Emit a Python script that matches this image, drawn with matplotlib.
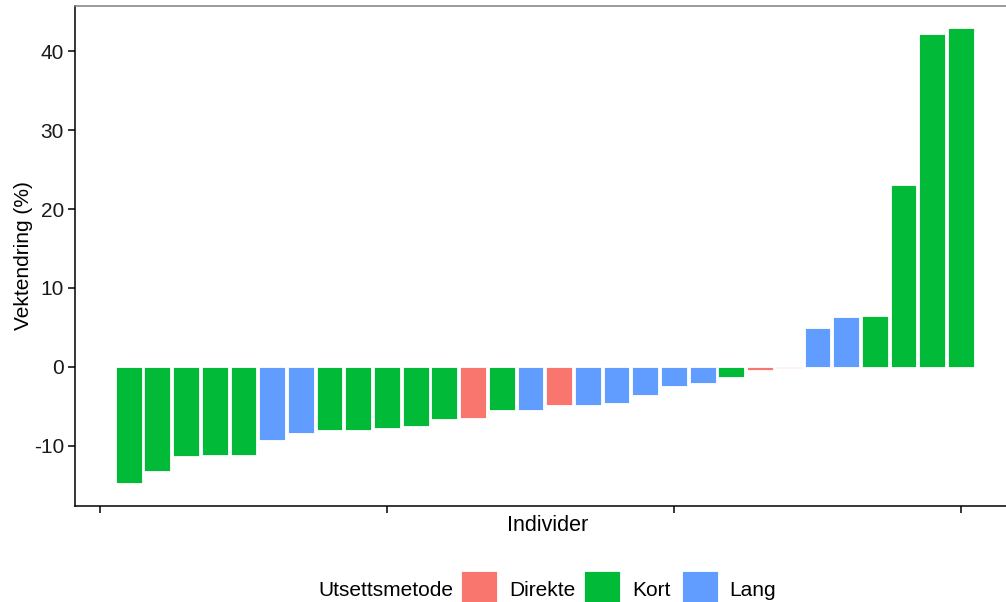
import numpy as np
import matplotlib.pyplot as plt
from matplotlib.patches import Rectangle

plt.rcParams['font.family'] = ['Liberation Sans', 'DejaVu Sans']

# Weight change per individual, sorted, with release method
vektendring = [-14.7, -13.2, -11.3, -11.2, -11.1, -9.2, -8.4, -8.0, -8.0, -7.7,
               -7.5, -6.6, -6.5, -5.5, -5.4, -4.8, -4.8, -4.6, -3.6, -2.4,
               -2.0, -1.3, -0.4, -0.1, 4.9, 6.3, 6.5, 23.0, 42.1, 42.9]
metode = ['Kort', 'Kort', 'Kort', 'Kort', 'Kort', 'Lang', 'Lang', 'Kort', 'Kort', 'Kort',
          'Kort', 'Kort', 'Direkte', 'Kort', 'Lang', 'Direkte', 'Lang', 'Lang', 'Lang', 'Lang',
          'Lang', 'Kort', 'Direkte', 'Direkte', 'Lang', 'Lang', 'Kort', 'Kort', 'Kort', 'Kort']
kategorier = ['Direkte', 'Kort', 'Lang']
farger = {'Direkte': '#F8766D', 'Kort': '#00BA38', 'Lang': '#619CFF'}

W, H = 1006, 602
fig = plt.figure(figsize=(W / 100, H / 100), dpi=100)

def fx(px):
    return px / W

def fy(py):
    return 1 - py / H

ax = fig.add_axes([fx(75), fy(506), 1 - fx(75), fy(6) - fy(506)])

x = np.arange(1, len(vektendring) + 1)
ax.bar(x, vektendring, width=0.9, color=[farger[m] for m in metode],
       edgecolor='white', linewidth=0.6)

ax.set_xlim(-0.87, 31.57)
ax.set_ylim(-17.6, 45.7)
ax.set_xticks([0, 10, 20, 30])
ax.set_xticklabels([])
ax.set_yticks([-10, 0, 10, 20, 30, 40])
ax.set_yticklabels(['-10', '0', '10', '20', '30', '40'])
ax.tick_params(axis='both', length=5, width=1.1, color='black',
               labelsize=15, labelcolor='#1a1a1a', pad=3)

for s in ['left', 'bottom']:
    ax.spines[s].set_color('black')
    ax.spines[s].set_linewidth(1.1)
ax.spines['top'].set_color('#7f7f7f')
ax.spines['top'].set_linewidth(1.1)
ax.spines['right'].set_visible(False)

# the panel runs a little past the right edge of the picture, so centre the title on that
ax.set_xlabel('Individer', fontsize=15.5)
ax.xaxis.set_label_coords(0.508, -0.018)
ax.set_ylabel('Vektendring (%)', fontsize=15)
ax.yaxis.set_label_coords(-0.045, 0.5)

# legend at the bottom, drawn by hand (ggplot style, horizontal with title on the left)
ty = fy(590)
fig.text(fx(318), ty, 'Utsettsmetode', fontsize=15, va='center', ha='left')
key_left = [461, 584, 682]
text_left = [509, 632, 729]
for kat, kl, tl in zip(kategorier, key_left, text_left):
    fig.patches.append(Rectangle((fx(kl), fy(607)), fx(36), fy(571) - fy(607),
                                 transform=fig.transFigure, facecolor=farger[kat],
                                 edgecolor='white', linewidth=0.6))
    fig.text(fx(tl), ty, kat, fontsize=15, va='center', ha='left')

fig.savefig('out.png', dpi=100)
